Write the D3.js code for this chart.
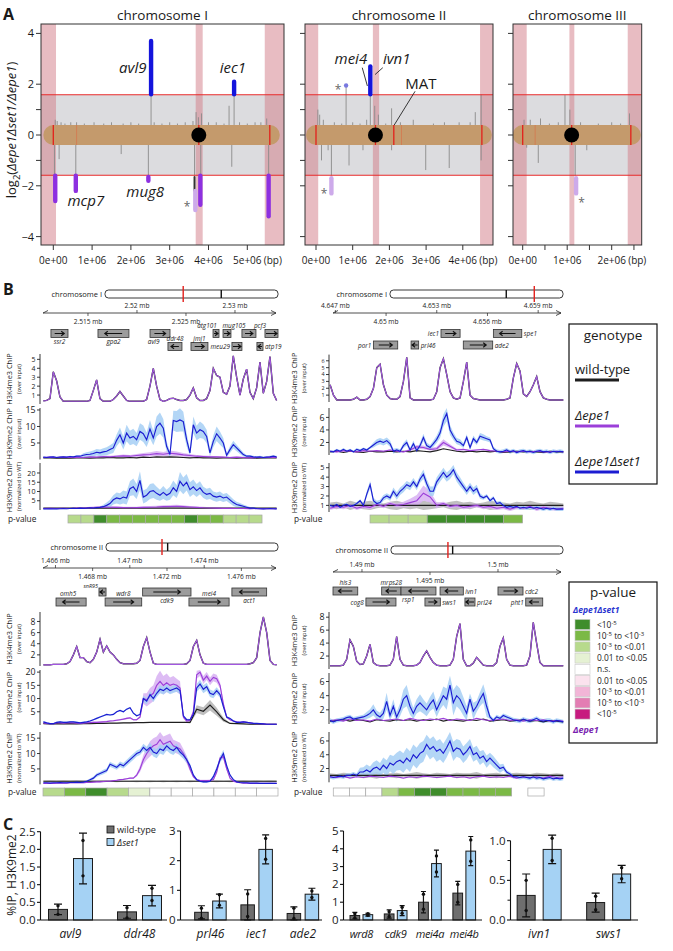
<!DOCTYPE html>
<html><head><meta charset="utf-8">
<script src="https://cdn.jsdelivr.net/npm/d3@7"></script>
<style>
body{margin:0;background:#fff;}
svg{display:block;}
text{font-family:"Open Sans","Liberation Sans",Arial,sans-serif;fill:#1a1a1a;}
</style></head><body>
<svg id="fig" width="673" height="951" viewBox="0 0 673 951"></svg>
<script>
// ================= PANEL A DATA =================
const chromNames=["chromosome I","chromosome II","chromosome III"];
const chromLenMb=[5.58,4.52,2.43];
const cenMb=[3.75,1.62,1.10];
const threshold=1.585;
const aXTicks=[[0,1,2,3,4,5],[0,1,2,3,4],[0,0.5,1,1.5,2,2.5]];
const aYTicks=[4,2,1,0,-1,-2,-4];
const aYLabels=[4,2,0,-2,-4];
const pinkBands=[[[-1,0.07],[3.67,3.85],[5.45,7]],[[-1,0.06],[1.55,1.72],[4.47,6]],[[-1,0.09],[1.05,1.16],[2.36,3]]];
const redStrong=[[0,3.75,5.58],[0,1.62,2.12,4.52],[0,1.10,2.43]];
const redFaint=[[0.6],[2.33],[0.28]];
const spikesI=[[0.03,-1.6],[0.05,0.6],[0.1,0.55],[0.15,-0.95],[0.2,0.5],[0.3,0.45],[0.45,0.5],[0.58,-1.6],[0.6,0.5],[0.8,0.45],[0.95,-0.3],[1.05,0.5],[1.3,0.45],[1.5,0.5],[1.75,-0.75],[1.8,0.45],[2.0,0.5],[2.2,0.45],[2.45,-1.6],[2.52,1.6],[2.6,0.5],[2.8,0.45],[3.0,0.5],[3.2,0.45],[3.4,0.5],[3.6,0.55],[3.64,-1.6],[3.68,0.9],[3.74,0.7],[3.8,-1.6],[3.82,0.85],[4.0,0.5],[4.2,0.5],[4.4,0.45],[4.53,1.15],[4.6,-1.25],[4.66,1.6],[4.8,0.5],[5.0,0.45],[5.2,0.5],[5.35,0.5],[5.5,0.65],[5.55,-1.6]];
const spikesII=[[0.05,1.0],[0.1,0.8],[0.15,-1.0],[0.2,0.6],[0.33,-0.6],[0.42,-1.6],[0.5,0.5],[0.7,0.45],[0.82,1.95],[0.9,-1.2],[1.0,0.5],[1.2,0.45],[1.28,-0.6],[1.38,0.6],[1.48,1.6],[1.6,1.15],[1.7,0.8],[1.9,0.45],[2.06,1.05],[2.06,-0.6],[2.3,0.5],[2.65,0.6],[2.99,-1.38],[3.2,0.45],[3.5,0.5],[3.63,-1.3],[3.9,0.5],[4.2,0.5],[4.34,0.9],[4.5,1.6],[4.5,-1.0]];
const spikesIII=[[0.03,0.6],[0.09,-0.5],[0.17,0.6],[0.35,-1.1],[0.4,0.65],[0.6,0.45],[0.8,0.5],[0.95,1.57],[1.06,1.0],[1.18,-1.6],[1.3,0.5],[1.44,-0.6],[1.7,0.45],[2.0,0.5],[2.2,0.45],[2.4,0.85]];
const hitsI=[[0.05,-1.6,-2.6,"down"],[0.58,-1.6,-2.2,"down"],[2.45,-1.65,-1.8,"down"],[2.52,1.6,3.7,"up"],[3.64,-1.65,-2.2,"dark"],[3.66,-2.2,-2.95,"light"],[3.79,-1.6,-2.75,"down"],[4.66,1.6,2.1,"up"],[5.55,-1.6,-3.2,"down"]];
const hitsII=[[0.42,-1.7,-2.3,"light"],[0.82,1.95,1.95,"weak"],[1.48,1.6,2.7,"up"]];
const hitsIII=[[1.2,-1.7,-2.3,"light"]];
const aLabels=[[0,"avl9",2.05,2.45,"i"],[0,"iec1",4.63,2.45,"i"],[0,"mcp7",0.84,-2.8,"i"],[0,"mug8",2.37,-2.45,"i"],[0,"*",3.45,-2.8,"s"],[1,"mei4",0.95,2.8,"i"],[1,"ivn1",2.2,2.8,"i"],[1,"MAT",2.86,1.8,"n"],[1,"*",0.6,1.8,"s"],[1,"*",0.22,-2.3,"s"],[2,"*",1.32,-2.65,"s"]];
const aLeaders=[[1,1.26,2.65,1.40,1.93],[1,1.82,2.65,1.61,2.38],[1,2.70,1.72,2.13,0.39]];

// ================= PANEL B DATA =================
const bChrom=["chromosome I","chromosome I","chromosome II","chromosome II"];
const bChromLen=[5.58,5.58,4.52,4.52];
const bCen=[3.75,3.75,1.62,1.62];
const bView=[[2.51041,2.53439],[4.64686,4.66047],[1.46533,1.47797],[1.48787,1.50478]];
const bDataRange=[[2.51044,2.53425],[4.64669,4.66049],[1.46535,1.47790],[1.48765,1.50480]];
const rulerTop=[[2.52,2.53],[4.647,4.653,4.659],[1.466,1.47,1.474],[1.49,1.5]];
const rulerBot=[[2.515,2.525],[4.65,4.656],[1.468,1.472,1.476],[1.495]];
const bTicks=[[[1,2,3,4,5],[5,10,15],[5,10,15,20]],[[1,2,3,4,5,6],[2,4,6],[1,2,3,4,5]],[[2,4,6,8],[5,10,15,20],[5,10,15]],[[2,4,6,8],[2,4,6],[2,4,6]]];
const bYDom=[[[0,5.6],[0,15.6],[0,25.4]],[[0,6.9],[0,7.5],[0.3,5.5]],[[0,9.7],[0,20.8],[0,17]],[[0,8.8],[0,7.2],[0,7.3]]];

const genesTL=[["ssr2",2.51122,2.51296,1,0,"b"],["gpa2",2.51602,2.51918,-1,0,"b"],["avl9",2.52133,2.52337,1,0,"b",2.52170],["ddr48",2.52316,2.52459,-1,1,"a"],["jmj1",2.52551,2.52724,1,1,"a"],["atg101",2.52776,2.52837,1,0,"a",2.52714],["mug105",2.52878,2.52959,1,0,"a",2.52990],["pcf3",2.53071,2.53214,1,0,"a",2.53255],["meu29",2.52969,2.53071,1,1,"l"],["",2.53306,2.53439,1,0,"a"],["atp19",2.53224,2.53286,-1,1,"r"]];
const genesTR=[["por1",4.64925,4.65069,1,1,"l"],["prl46",4.65148,4.65193,-1,1,"r"],["iec1",4.65325,4.65438,1,0,"l"],["ade2",4.65457,4.65631,1,1,"r"],["spe1",4.65635,4.65803,-1,0,"r"]];
const genesBL=[["omh5",1.46603,1.46765,-1,1,"a",1.46668],["snR95",1.46834,1.46872,-1,0,"al"],["wdr8",1.46867,1.47064,1,1,"a"],["cdk9",1.47069,1.47329,1,0,"b"],["mei4",1.47318,1.47534,1,1,"a"],["act1",1.47549,1.47736,-1,0,"b"]];
const genesBR=[["his3",1.48787,1.48969,-1,0,"a"],["mrps28",1.49145,1.49287,-1,0,"a"],["rsp1",1.49287,1.49544,-1,0,"bl"],["ivn1",1.49574,1.49745,-1,0,"r"],["cdc2",1.50000,1.50184,1,0,"r"],["cog8",1.49029,1.49250,1,1,"l"],["sws1",1.49463,1.49576,1,1,"r"],["prl24",1.49757,1.49831,-1,1,"r"],["pht1",1.50204,1.50329,-1,1,"l"]];

const pvTL=[2,2,0,1,1,1,1,1,1,0,1,1,2,2,2];
const pvTR=[2,2,2,0,0,0,0,1];
const pvBL=[2,1,0,2,3,4,4,4,4,4,4];
const pvBR=[4,4,4,2,1,0,0,1,1,1,1,null,4];
const pvRange=[[2.51296,2.53276],[4.64905,4.65808],[1.46533,1.47797],[1.48789,1.50339]];

// H3K4me3 (wild-type and Δepe1 overlap)
const k4TL=[0.35,0.4,0.6,3.6,2.6,0.8,0.3,0.3,0.3,0.3,0.3,0.3,0.3,0.3,0.4,1.5,2.7,0.6,0.3,0.3,0.3,0.5,0.9,1.4,0.9,0.4,0.3,0.3,0.3,0.3,0.3,0.5,2.0,4.0,2.0,0.5,0.3,0.4,0.6,0.65,0.5,0.4,0.4,0.5,1.0,1.8,0.7,0.4,0.4,0.6,1.5,4.0,3.2,3.0,1.3,1.1,2.0,5.4,3.0,1.0,2.8,3.9,1.3,0.6,1.8,4.7,1.2,2.5,5.3,1.2,0.4];
const k4TR=[2.5,1.0,0.3,0.3,0.3,0.3,0.3,0.4,0.7,0.3,0.3,0.4,0.8,2.0,5.0,5.5,2.5,1.0,0.5,0.4,0.4,0.8,3.0,6.5,0.6,0.3,0.3,0.3,0.3,0.3,0.3,0.4,1.5,5.0,6.3,4.0,1.5,0.6,0.4,0.6,3.0,5.8,1.0,0.5,0.4,0.3,0.3,0.3,0.3,0.3,0.3,0.3,0.3,0.4,0.6,3.5,5.6,4.5,1.2,0.8,1.5,2.5,3.7,1.5,0.6,0.4,0.3,0.3,0.3,0.3,0.3];
const k4BL=[0.2,0.2,0.2,0.3,0.3,0.3,0.3,0.4,0.8,2.0,3.5,1.5,1.5,0.8,0.6,1.2,2.5,4.8,2.5,3.6,2.5,2.0,1.2,0.6,0.4,0.4,0.4,0.4,0.5,1.0,3.5,5.1,2.5,0.5,0.3,0.3,0.3,0.3,0.3,0.3,0.3,0.3,0.3,0.4,1.0,3.5,4.6,2.0,0.5,0.3,0.3,0.3,0.3,0.3,0.3,0.3,0.3,0.3,0.3,0.3,0.3,0.3,0.4,0.6,1.5,6.0,8.8,6.0,1.0,0.3,0.2];
const k4BR=[0.5,0.5,0.5,0.5,0.6, 1.5,4.5,3.5,1.2,0.7, 0.8,2.0,3.8,1.0,0.6, 0.5,0.5,0.5,0.6,1.5, 5.0,1.5,0.6,0.5,0.5, 0.5,0.6,1.0,2.0,2.8, 1.8,1.0,0.6,0.5,0.5, 0.5,0.6,1.5,5.0,7.0, 1.5,0.5,0.5,0.9,1.8, 1.2,0.6,0.5,0.5,0.5, 1.0,3.5,4.8,1.5,0.6, 0.5,0.5,0.5,0.5,0.6, 2.0,7.2,4.0,1.0,0.5, 0.5,0.5,0.5,0.5,0.5,0.5];

// H3K9me2 over input
const k9TLset=[0.7,0.6,0.7,0.8,0.6,0.7,0.8,0.7,0.9,0.8,1.0,1.0,1.3,1.5,1.6,1.8,2.2,2.0,2.3,2.5,3.0,3.5,5.8,7.5,5.0,8.0,6.5,7.0,6.0,8.5,7.8,6.0,9.2,6.5,10.0,11.0,9.5,4.0,1.5,11.8,11.5,12.0,11.5,6.0,2.0,10.5,8.0,9.0,8.5,7.0,2.0,5.5,7.8,6.5,5.0,1.3,3.0,4.5,3.5,2.5,1.5,1.0,1.0,0.8,0.7,0.8,0.6,0.7,0.8,1.0,0.8];
const k9TLsetErr=[0.2,0.2,0.2,0.2,0.2,0.2,0.2,0.2,0.2,0.2,0.2,0.2, 0.6,0.7,0.8,0.9,1.0,1.0,1.1,1.2,1.3,1.5, 1.8,2.2,2.0,2.5,2.2,2.3,2.0,2.5,2.5,2.2,2.8,2.2,3.0,3.2,2.8,1.5, 0.8,3.0,3.2,3.5,3.0,2.0,1.0, 2.5,2.2,2.5,2.2,2.0,1.0,1.8,2.2,2.0,1.5,0.6, 1.0,1.2,1.0,0.8,0.6,0.4,0.4,0.3,0.3,0.3,0.3,0.3,0.3,0.3,0.3];
const k9TLepe=[0.6,0.7,0.6,0.7,0.6,0.7,0.6,0.8,0.7,0.9,0.8,1.0,1.1,1.0,1.2,1.4,1.5,1.8,1.6,1.9,1.7,1.4,1.2,1.0,0.9,0.8,0.8,0.7,0.6,0.7,0.6,0.5,0.6,0.6,0.7,0.6];
const k9TLepeErr=[0.2,0.2,0.2,0.2,0.2,0.2,0.2,0.2,0.2,0.3,0.3,0.3,0.4,0.4,0.5,0.6,0.7,0.8,0.7,0.8,0.7,0.6,0.5,0.4,0.3,0.3,0.2,0.2,0.2,0.2,0.2,0.2,0.2,0.2,0.2,0.2];
const k9TLwt=[0.5,0.5,0.4,0.5,0.4,0.5,0.5,0.4,0.5,0.5,0.6,0.5,0.5,0.6,0.5,0.7,0.6,0.8,0.7,0.8,0.7,0.6,0.5,0.6,0.5,0.5,0.4,0.5,0.5,0.4,0.5,0.5,0.4,0.5,0.5,0.5];

const k9TRset=[0.6,0.5,0.8,0.6,0.9,0.6,0.8,0.5,0.9,0.7,1.0,0.8,1.2,1.6,2.0,2.2,2.0,2.3,1.8,0.6,0.8,0.6,1.5,2.0,0.8,1.8,0.7,1.5,2.8,1.5,1.2,1.8,2.5,3.5,5.5,6.6,4.0,3.0,2.2,2.0,1.5,2.8,1.2,2.6,2.0,3.0,2.8,2.6,2.4,1.0,0.6,0.5,0.6,0.8,0.5,0.7,0.4,0.6,0.7,0.5,0.6,0.4,0.6,0.7,0.5,0.6,0.4,0.6,0.5,0.6,0.5];
const k9TRsetErr=[0.2,0.2,0.2,0.2,0.2,0.2,0.2,0.2,0.2,0.2,0.2,0.2,0.2, 0.4,0.5,0.5,0.5,0.5,0.5,0.4,0.3,0.3,0.4,0.5,0.3,0.5,0.3,0.5,0.6,0.5,0.4,0.5,0.6,0.8, 1.0,1.2,0.8,0.6,0.5,0.5,0.4,0.5,0.4,0.5,0.4,0.5,0.5,0.4,0.4, 0.3,0.3,0.3,0.3,0.3,0.3,0.3,0.3,0.3,0.3,0.3,0.3,0.3,0.3,0.3,0.3,0.3,0.3,0.3,0.3,0.3,0.3];
const k9TRepe=[0.6,0.5,0.7,0.6,0.5,0.7,0.6,0.7,0.6,0.8,0.6,0.5,0.8,1.3,1.2,0.9,1.0,2.0,1.4,0.8,0.9,0.7,0.8,0.9,0.7,0.6,0.5,0.6,0.5,0.6,0.5,0.6,0.5,0.5,0.6,0.5];
const k9TRepeErr=[0.1,0.1,0.1,0.1,0.1,0.1,0.1,0.1,0.1,0.1,0.1,0.1,0.2,0.3,0.3,0.2,0.3,0.5,0.3,0.2,0.1,0.1,0.1,0.1,0.1,0.1,0.1,0.1,0.1,0.1,0.1,0.1,0.1,0.1,0.1,0.1];
const k9TRwt=[0.5,0.6,0.4,0.6,0.5,0.4,0.6,0.5,0.5,0.6,0.5,0.6,0.5,0.7,0.6,0.5,0.7,1.0,0.8,0.6,0.5,0.6,0.5,0.6,0.5,0.6,0.4,0.5,0.6,0.5,0.6,0.5,0.4,0.6,0.5,0.5];

const k9BLset=[1.2,0.8,0.5,0.5,1.0,1.2,1.0,1.0,1.2,1.2,1.0,0.8,1.0,1.2,1.5,2.0,2.5,3.0,3.5,4.0,3.8,4.0,5.0,5.5,5.0,6.0,6.5,4.5,3.5,4.0,10.0,9.0,11.5,10.0,12.0,13.5,13.0,14.0,13.0,13.5,14.0,13.0,3.5,2.0,2.0,4.0,14.0,15.5,13.5,14.5,12.0,11.5,13.0,11.5,7.0,3.0,2.5,1.5,1.0,1.0,1.2,1.0,0.8,0.6,0.6,0.5,0.4,0.3,0.3,0.3,0.3];
const k9BLsetErr=[0.3,0.3,0.3,0.3,0.3,0.3,0.3,0.3,0.3,0.3,0.3,0.3,0.3,0.3,0.3,0.3,0.3,0.3,0.3,0.3,0.3,0.3,0.3,0.3,0.3,0.3,0.3,0.3,0.3,0.3, 1.2,1.2,1.3,1.3,1.4,1.5,1.5,1.5,1.4,1.4,1.4,1.3, 0.5,0.4,0.4,0.6, 1.5,1.6,1.5,1.5,1.4,1.4,1.3,1.2, 0.8,0.4,0.3,0.3,0.2,0.2,0.2,0.2,0.2,0.2,0.2,0.2,0.2,0.2,0.2,0.2,0.2];
const k9BLepe=[0.8,0.6,0.5,0.5,0.8,0.8,0.7,0.8,0.8,0.8,0.7,0.6,0.7,0.8,0.9,1.0,1.0,1.1,1.2,1.3,1.5,1.6,1.8,2.0,2.2,2.5,2.7,2.0,2.0,3.0,10.0,9.5,11.0,12.0,15.0,16.5,15.0,16.0,15.0,15.5,15.0,14.0,3.0,1.5,1.8,5.0,19.0,20.0,17.0,18.5,16.5,18.0,17.5,15.0,8.0,3.0,2.0,1.5,1.2,1.0,1.2,1.0,0.8,0.6,0.5,0.5,0.4,0.3,0.3,0.3,0.3];
const k9BLepeErr=[0.3,0.3,0.3,0.3,0.3,0.3,0.3,0.3,0.3,0.3,0.3,0.3,0.3,0.3,0.3,0.3,0.3,0.3,0.3,0.3,0.3,0.3,0.3,0.3,0.3,0.3,0.3,0.3,0.3,0.3, 2.0,2.5,3.0,3.0,3.5,4.0,3.5,3.5,3.0,3.0,2.5,2.5, 0.5,0.4,0.4,0.8, 1.5,1.5,1.5,1.5,1.5,1.5,1.5,1.2, 0.8,0.4,0.3,0.3,0.2,0.2,0.2,0.2,0.2,0.2,0.2,0.2,0.2,0.2,0.2,0.2,0.2];
const k9BLwt=[0.5,0.4,0.5,0.4,0.5,0.4,0.5,0.5,0.6,0.6,0.7,0.7,0.8,0.8,0.9,0.9,1.0,1.0,1.0,1.0,1.0,1.0,1.0,6.0,5.2,7.5,5.0,2.0,0.6,0.5,0.4,0.3,0.3,0.3,0.3,0.3];
const k9BLwtErr=[0.1,0.1,0.1,0.1,0.1,0.1,0.1,0.1,0.1,0.1,0.1,0.1,0.1,0.1,0.1,0.1,0.1,0.1,0.1,0.1,0.1,0.1,0.4,1.5,1.5,2.0,1.5,0.8,0.2,0.1,0.1,0.1,0.1,0.1,0.1,0.1];

const k9BRset=[0.5,0.3,0.5,0.6,0.7,0.9,1.0,0.7,0.8,0.9,1.0,1.2,1.5,2.0,1.3,1.0,1.5,3.2,1.2,2.5,1.0,2.0,3.5,4.0,2.5,1.5,2.5,3.0,2.5,2.0,2.8,3.4,2.0,3.0,4.0,3.5,5.5,3.0,4.0,3.5,2.5,1.5,3.5,1.8,2.5,3.5,4.3,2.5,1.0,0.5,1.0,0.8,1.2,1.0,0.8,0.6,0.5,0.4,0.7,0.5,0.4,0.6,0.8,0.5,0.4,0.5,0.5,0.3,0.5,0.4,0.3];
const k9BRsetErr=[0.3,0.3,0.3,0.3,0.3,0.3,0.3,0.3,0.3,0.3,0.3, 0.5,0.6,0.8,0.6,0.6,0.8,1.2,0.7,1.0,0.7,0.9,1.3,1.5,1.2,0.8,1.0,1.2,1.0,0.9,1.0,1.2,1.0,1.0,1.3,1.5,1.3,1.8,1.5,1.5,1.3,1.0,0.8,1.2,0.8,1.0,1.3,1.5, 0.3,0.3,0.3,0.3,0.3,0.3,0.3,0.3,0.3,0.3,0.3,0.3,0.3,0.3,0.3,0.3,0.3,0.3,0.3,0.3,0.3,0.3,0.3];
const k9BRepe=[0.5,0.6,0.4,0.7,0.5,0.6,0.4,0.7,0.5,0.6,0.7,0.5,0.8,0.6,0.5,0.7,0.6,0.8,0.5,0.7,0.6,0.5,0.8,0.6,0.5,0.6,0.7,0.5,0.6,0.4,0.6,0.5,0.6,0.4,0.5,0.4];
const k9BRwt=[0.4,0.5,0.6,0.4,0.6,0.5,0.3,0.6,0.5,0.4,0.6,0.5,0.6,0.4,0.6,0.5,0.7,0.4,0.6,0.5,0.4,0.6,0.5,0.7,0.4,0.5,0.6,0.4,0.5,0.6,0.4,0.5,0.3,0.5,0.4,0.3];

// H3K9me2 normalized to WT
const nTLset=[0.6,0.7,0.6,0.7,0.6,0.7,0.8,0.7,0.8,0.9,0.8,1.0,0.9,1.0,1.2,1.1,1.3,1.4,1.8,2.5,3.5,5.5,6.5,6.0,7.0,6.5,11.5,12.5,10.0,16.0,7.0,8.0,10.0,10.5,9.0,8.0,9.5,8.0,9.0,12.0,10.0,15.5,13.0,15.0,11.0,12.5,10.5,12.0,9.5,8.5,9.0,7.5,7.0,7.5,6.5,7.0,5.5,4.0,3.0,2.5,2.0,1.5,1.0,1.0,0.8,0.7,0.6,0.7,0.8,0.7,0.6];
const nTLsetErr=[0.3,0.3,0.3,0.3,0.3,0.3,0.3,0.3,0.3,0.3,0.3,0.3,0.3,0.3,0.3,0.3,0.3,0.3, 1.0,1.5,2.0,2.5,3.0,3.0,3.5,3.5, 4.0,4.5,4.0,5.0,3.5,3.5,4.0,4.0,3.5,3.0,3.5,3.0,3.5,4.0,3.5,5.0,4.5,4.5,4.0,4.0,3.5,3.5, 3.0,3.0,3.0,2.5,2.5,2.5,2.2,2.2,2.0,1.8, 1.5,1.3,1.0,0.8,0.6,0.5,0.4,0.3,0.3,0.3,0.3,0.3,0.3];
const nTLepe=[0.8,0.9,0.8,0.9,0.8,1.0,1.0,1.2,1.4,1.6,1.5,1.4,1.3,1.2,1.3,1.4,1.5,1.6,1.8,1.9,2.0,1.8,1.6,1.4,1.2,1.1,1.0,0.9,0.9,0.8,0.8,0.7,0.8,0.7,0.8,0.7];
const nTLepeErr=[0.3,0.3,0.3,0.3,0.3,0.4,0.4,0.5,0.6,0.7,0.6,0.6,0.5,0.5,0.5,0.6,0.6,0.7,0.8,0.8,0.8,0.7,0.6,0.5,0.5,0.4,0.4,0.3,0.3,0.3,0.3,0.3,0.3,0.3,0.3,0.3];
const nTLwt=[1,1];

const nTRset=[1.0,0.9,1.1,0.8,1.0,1.1,0.9,1.0,1.2,1.5,1.0,2.2,3.2,1.5,1.2,1.3,1.8,2.0,1.8,2.5,2.0,2.5,2.8,3.2,3.0,3.5,3.0,3.8,4.3,3.3,2.5,2.5,3.5,4.0,4.5,4.0,4.3,4.8,4.0,3.5,3.0,2.5,3.0,2.5,2.8,2.0,1.8,2.0,1.5,1.8,1.2,1.3,1.0,0.8,0.9,0.8,0.9,0.7,0.8,0.7,0.8,0.7,0.8,0.7,0.6,0.7,0.6,0.7,0.6,0.6,0.6];
const nTRsetErr=[0.15,0.15,0.15,0.15,0.15,0.15,0.15,0.15,0.15,0.15,0.15, 0.3,0.4,0.3,0.3,0.3,0.3,0.3,0.3,0.4,0.4,0.4,0.4,0.4,0.4,0.4,0.4, 0.4,0.5,0.5,0.5,0.5,0.5,0.5,0.5,0.5,0.5,0.5,0.5,0.5,0.4,0.4,0.4,0.4,0.4,0.3, 0.2,0.2,0.2,0.2,0.2,0.2,0.2,0.2,0.2,0.2,0.2,0.2,0.2,0.2,0.2,0.2,0.2,0.2,0.2,0.2,0.2,0.2,0.2,0.2,0.2];
const nTRepe=[0.7,0.9,0.8,1.0,0.7,0.9,0.8,1.1,0.9,1.2,1.0,1.1,1.3,1.5,2.3,1.9,1.0,1.2,0.9,1.0,0.8,0.9,1.0,0.8,0.9,0.7,0.8,0.6,0.8,0.7,0.9,0.6,0.8,0.7,0.6,0.7];
const nTRepeErr=[0.2,0.2,0.2,0.2,0.2,0.2,0.2,0.2,0.2,0.2,0.2,0.3,0.4,0.6,0.8,0.6,0.3,0.2,0.2,0.2,0.2,0.2,0.2,0.2,0.2,0.2,0.2,0.2,0.2,0.2,0.2,0.2,0.2,0.2,0.2,0.2];
const nTRwt=[1,1,1,1,1,1,1,1,1,1,1,1,1,1,1,1,1,1,1,1,1,1,1,1,1,1,1,1,1,1,1,1,1,1,1,1];
const nTRwtErr=[0.3,0.4,0.2,0.5,0.3,0.4,0.5,0.3,0.2,0.4,0.5,0.3,0.4,0.3,0.5,0.4,0.3,0.2,0.4,0.5,0.3,0.4,0.2,0.3,0.5,0.4,0.3,0.2,0.4,0.3,0.5,0.3,0.2,0.4,0.3,0.2];

const nBLset=[0.5,0.5,0.4,0.5,0.5,0.6,0.5,0.5,0.6,0.6,0.7,0.6,0.7,1.0,1.5,2.0,3.0,3.5,4.0,4.5,6.5,6.0,5.5,6.5,6.0,7.0,8.0,9.0,10.0,10.5,12.0,11.0,12.0,10.5,10.0,11.5,11.0,12.5,11.5,11.0,12.0,10.5,9.5,8.0,6.0,3.0,1.5,1.0,0.8,0.8,1.0,2.5,5.0,8.0,10.0,6.0,3.0,1.5,0.8,0.6,0.5,0.5,0.4,0.4,0.4,0.3,0.3,0.3,0.3,0.3,0.3];
const nBLsetErr=[0.2,0.2,0.2,0.2,0.2,0.2,0.2,0.2,0.2,0.2,0.2,0.2,0.2, 0.3,0.4,0.5,0.6,0.6,0.7,0.7,0.8,0.8,0.8,0.9,0.9,1.0,1.0,1.0,1.0,1.0, 1.2,1.2,1.5,1.5,1.5,1.5,1.5,1.5,1.5,1.5,1.3,1.2,1.2,1.0, 0.8,0.5,0.3,0.3,0.3,0.3,0.3,0.5,0.8,1.0,1.2,0.8,0.4,0.3, 0.2,0.2,0.2,0.2,0.2,0.2,0.2,0.2,0.2,0.2,0.2,0.2,0.2];
const nBLepe=[0.3,0.3,0.3,0.3,0.4,0.4,0.4,0.4,0.5,0.5,0.5,0.5,0.5,0.6,0.6,0.7,0.8,0.8,0.9,1.0,1.0,1.2,1.3,1.5,1.6,1.8,2.0,2.0,3.0,5.0,8.0,10.0,11.5,12.5,13.0,14.5,13.0,13.5,14.0,12.5,12.0,11.5,10.0,8.0,5.0,2.5,1.5,1.2,1.2,1.2,1.3,1.5,4.0,8.5,9.0,5.0,2.0,1.0,0.7,0.5,0.4,0.4,0.3,0.3,0.3,0.3,0.3,0.3,0.3,0.3,0.3];
const nBLepeErr=[0.2,0.2,0.2,0.2,0.2,0.2,0.2,0.2,0.2,0.2,0.2,0.2,0.2,0.2,0.2,0.2,0.2,0.2,0.2,0.2,0.2,0.2,0.2,0.2,0.2,0.2,0.2,0.2, 0.5,1.0,1.5,2.0,2.5,2.5,2.5,3.0,2.5,2.5,2.5,2.0,2.0,2.0,1.5,1.2, 0.8,0.4,0.3,0.3,0.3,0.3,0.3,0.3,0.6,0.8,0.8,0.5,0.3,0.2, 0.1,0.1,0.1,0.1,0.1,0.1,0.1,0.1,0.1,0.1,0.1,0.1,0.1];
const nBLwt=[1,1,1,1,1,1,1,1,1,1,1,1,1,1,1,1,1,1,1,1,1,1,1,1,1,1,1,1,1,1,1,1,1,1,1,1];
const nBLwtErr=[0.2,0.3,0.2,0.3,0.2,0.3,0.2,0.3,0.2,0.3,0.2,0.3,0.2,0.2,0.3,0.2,0.3,0.2,0.3,0.2,0.3,0.2,0.3,0.2,0.3,0.2,0.3,0.2,0.3,0.2,0.3,0.2,0.3,0.2,0.3,0.2];

const nBRset=[0.8,0.7,0.8,0.9,0.8,1.0,1.0,1.2,1.0,1.5,1.5,1.8,1.5,2.0,2.2,1.8,2.5,2.0,2.8,2.5,3.0,3.2,2.8,3.5,3.0,4.0,3.5,4.2,4.5,5.5,4.8,5.2,4.5,4.8,4.2,5.0,6.0,4.5,5.0,4.8,4.0,4.5,5.2,4.0,4.3,3.5,3.8,3.0,3.5,3.0,2.5,2.0,2.2,1.5,1.2,0.8,0.8,0.7,0.8,0.7,0.6,0.8,0.6,0.7,0.5,0.6,0.7,0.5,0.6,0.5,0.6];
const nBRsetErr=[0.3,0.3,0.3,0.3,0.3,0.3,0.3,0.3,0.3, 0.6,0.7,0.8,0.8,0.9,1.0,1.0,1.1,1.2,1.2,1.3,1.3,1.4,1.4,1.5,1.5,1.5,1.5,1.5,1.5,1.4,1.5,1.5,1.5,1.5,1.4,1.4,1.4,1.4,1.3,1.3,1.2,1.2,1.1,1.0,1.0,1.0,0.9,0.9,0.8,0.8,0.7,0.6,0.5, 0.3,0.3,0.3,0.3,0.3,0.3,0.3,0.3,0.3,0.3,0.3,0.3,0.3,0.3,0.3,0.3,0.3,0.3];
const nBRepe=[0.8,0.7,0.9,0.6,0.8,0.7,0.9,0.8,0.7,0.9,0.8,0.6,0.8,0.7,0.9,0.8,0.7,0.8,0.9,0.7,0.8,0.6,0.8,0.9,0.7,0.8,0.7,0.9,0.6,0.8,0.7,0.8,0.6,0.9,0.7,0.8];
const nBRwt=[1,1,1,1,1,1,1,1,1,1,1,1,1,1,1,1,1,1,1,1,1,1,1,1,1,1,1,1,1,1,1,1,1,1,1,1];
const nBRwtErr=[0.3,0.2,0.4,0.3,0.2,0.4,0.3,0.5,0.2,0.3,0.4,0.2,0.3,0.5,0.3,0.2,0.4,0.3,0.2,0.4,0.3,0.3,0.5,0.2,0.3,0.4,0.2,0.3,0.4,0.3,0.2,0.4,0.3,0.2,0.3,0.2];

const pvColors=["#3f8d2b","#7bb945","#b7da8c","#e5f1d3","#ffffff","#fbe2ee","#f2b5d7","#e37db3","#c71a7f"];
const pvLabels=[["<10","-5"],["10","-5"," to <10","-3"],["10","-3"," to <0.01"],["0.01 to <0.05"],["n.s."],["0.01 to <0.05"],["10","-3"," to <0.01"],["10","-5"," to <10","-3"],["<10","-5"]];

// ================= PANEL C DATA =================
const c1Genes=["avl9","ddr48"], c1WT=[0.30,0.23], c1WTsd=[0.15,0.18], c1Set=[1.74,0.69], c1SetSd=[0.72,0.29], c1WTpts=[[0.40,0.16],[0.35,0.06]], c1SetPts=[[2.25,1.25],[0.90,0.55]];
const c2Genes=["prl46","iec1","ade2"], c2WT=[0.26,0.51,0.22], c2WTsd=[0.22,0.51,0.22], c2Set=[0.64,2.38,0.87], c2SetSd=[0.23,0.49,0.20], c2WTpts=[[0.40,0.06],[0.88,0.12],[0.40,0.05]], c2SetPts=[[0.85,0.50],[2.75,2.05],[0.98,0.76]];
const c3Genes=["wrd8","cdk9","mei4a","mei4b"], c3WT=[0.25,0.34,1.0,1.51], c3WTsd=[0.18,0.23,0.6,0.66], c3Set=[0.30,0.53,3.17,3.87], c3SetSd=[0.08,0.28,0.75,0.82], c3WTpts=[[0.35,0.12],[0.47,0.20],[1.45,0.60],[2.0,1.0]], c3SetPts=[[0.35,0.27],[0.72,0.38],[3.6,2.7],[4.5,3.3]];
const c4Genes=["ivn1","sws1"], c4WT=[0.31,0.22], c4WTsd=[0.27,0.12], c4Set=[0.89,0.58], c4SetSd=[0.18,0.11], c4WTpts=[[0.50,0.12],[0.30,0.13]], c4SetPts=[[1.03,0.75],[0.66,0.52]];

// ================= DRAWING =================
const svg=d3.select("#fig");
function T(g,x,y,s,o={}){const t=g.append("text").attr("x",x).attr("y",y).text(s);
 t.attr("font-size",o.size||10); if(o.anchor)t.attr("text-anchor",o.anchor); if(o.italic)t.attr("font-style","italic");
 if(o.bold)t.attr("font-weight","bold"); if(o.fill)t.style("fill",o.fill); if(o.ls)t.attr("letter-spacing",o.ls); return t;}

T(svg,3,20,"A",{size:16,bold:true});
T(svg,3,295,"B",{size:16,bold:true});
T(svg,3,830,"C",{size:16,bold:true});

// ---------- Panel A ----------
const aLay=[{x0:41,x1:284,z:53.3,k:38.8},{x0:305,x1:493,z:316,k:36.7},{x0:513,x1:641.7,z:522.7,k:44.5}];
const aTop=24,aBot=245,aZero=135,aK=25.4;
const spikesA=[spikesI,spikesII,spikesIII], hitsA=[hitsI,hitsII,hitsIII];
const hitColor={up:"#1414dc",down:"#8d30e0",light:"#cdaaea",weak:"#7878e0",dark:"#333"};
const aScales=[];
aLay.forEach((L,ci)=>{
 const x=d3.scaleLinear().domain([(L.x0-L.z)/L.k,(L.x1-L.z)/L.k]).range([L.x0,L.x1]);
 const y=d3.scaleLinear().domain([(aZero-aBot)/aK,(aZero-aTop)/aK]).range([aBot,aTop]);
 aScales.push({x,y});
 const g=svg.append("g");
 const cid="clipA"+ci;
 g.append("clipPath").attr("id",cid).append("rect").attr("x",L.x0).attr("y",aTop).attr("width",L.x1-L.x0).attr("height",aBot-aTop);
 const gc=g.append("g").attr("clip-path",`url(#${cid})`);
 gc.append("rect").attr("x",L.x0).attr("width",L.x1-L.x0).attr("y",y(threshold)).attr("height",y(-threshold)-y(threshold)).attr("fill","#dcdcdf");
 pinkBands[ci].forEach(b=>gc.append("rect").attr("x",x(b[0])).attr("width",x(b[1])-x(b[0])).attr("y",aTop).attr("height",aBot-aTop).attr("fill","#d27a85").attr("fill-opacity",0.5));
 gc.selectAll(null).data(spikesA[ci]).join("line").attr("x1",d=>x(d[0])).attr("x2",d=>x(d[0])).attr("y1",y(0)).attr("y2",d=>y(d[1])).attr("stroke","#8a8a8a").attr("stroke-width",0.9);
 gc.append("line").attr("x1",x(0)).attr("x2",x(chromLenMb[ci])).attr("y1",y(0)).attr("y2",y(0)).attr("stroke","#c49a6c").attr("stroke-width",20).attr("stroke-linecap","round");
 redFaint[ci].forEach(p=>gc.append("line").attr("x1",x(p)).attr("x2",x(p)).attr("y1",y(0)-10).attr("y2",y(0)+10).attr("stroke","#e0603a").attr("stroke-opacity",0.6).attr("stroke-width",0.8));
 redStrong[ci].forEach(p=>gc.append("line").attr("x1",x(p)).attr("x2",x(p)).attr("y1",y(0)-10).attr("y2",y(0)+10).attr("stroke","#e3201c").attr("stroke-width",1.3));
 [threshold,-threshold].forEach(t=>gc.append("line").attr("x1",L.x0).attr("x2",L.x1).attr("y1",y(t)).attr("y2",y(t)).attr("stroke","#e82a2a").attr("stroke-width",1.1));
 hitsA[ci].forEach(h=>{
   gc.append("line").attr("x1",x(h[0])).attr("x2",x(h[0])).attr("y1",y(h[1])).attr("y2",y(h[2])).attr("stroke",hitColor[h[3]]).attr("stroke-width",h[3]==="dark"?2:4.4).attr("stroke-linecap","round");
 });
 gc.append("circle").attr("cx",x(cenMb[ci])).attr("cy",y(0)).attr("r",7.5).attr("fill","#000");
 g.append("rect").attr("x",L.x0).attr("y",aTop).attr("width",L.x1-L.x0).attr("height",aBot-aTop).attr("fill","none").attr("stroke","#333").attr("stroke-width",1);
 aYTicks.forEach(t=>{
   g.append("line").attr("x1",L.x0-5).attr("x2",L.x0).attr("y1",y(t)).attr("y2",y(t)).attr("stroke","#333");
   if(ci===0 && aYLabels.includes(t)) T(g,L.x0-7,y(t)+4,t<0?"\u2212"+(-t):String(t),{size:11,anchor:"end"});
 });
 const xt=aXTicks[ci];
 let lastLab=0;
 xt.forEach(t=>{
   g.append("line").attr("x1",x(t)).attr("x2",x(t)).attr("y1",aBot).attr("y2",aBot+5).attr("stroke","#333");
   if(Number.isInteger(t)){ lastLab=t; T(g,x(t),aBot+19,(t*1e6).toExponential(0).replace(/e\+(\d)$/,"e+0$1"),{size:10,anchor:"middle"}); }
 });
 T(g,x(lastLab)+16.5,aBot+19,"(bp)",{size:10,anchor:"start"});
 T(g,(L.x0+L.x1)/2,19.5,chromNames[ci],{size:13.5,anchor:"middle"});
});
aLabels.forEach(a=>{const s=aScales[a[0]];
 if(a[4]==="s") T(svg,s.x(a[2]),s.y(a[3])+5,a[1],{size:12,anchor:"middle",fill:"#666"});
 else T(svg,s.x(a[2]),s.y(a[3]),a[1],{size:15,anchor:"middle",italic:a[4]==="i"});
});
aLeaders.forEach(l=>{const s=aScales[l[0]];
 svg.append("line").attr("x1",s.x(l[1])).attr("y1",s.y(l[2])).attr("x2",s.x(l[3])).attr("y2",s.y(l[4])).attr("stroke","#222").attr("stroke-width",0.9);});
{const yl=svg.append("text").attr("transform","translate(16,130) rotate(-90)").attr("text-anchor","middle").attr("font-size",13);
 yl.append("tspan").text("log");
 yl.append("tspan").attr("dy",4).attr("font-size",9.5).text("2");
 yl.append("tspan").attr("dy",-4).text("(");
 yl.append("tspan").attr("font-style","italic").text("\u0394epe1\u0394set1/\u0394epe1");
 yl.append("tspan").text(")");}

// ---------- Panel B ----------
const bLay=[
 {x0:43,x1:278,axisX:40,labX:[12,21],ideo:[105,278,294],rulerY:313,rows:[329.5,342.5],tr:[[404,354],[459.5,408],[510,463]],pY:515,pLabX:8},
 {x0:333,x1:563,axisX:329,labX:[297,306],ideo:[390,563,294],rulerY:313,rows:[329.5,341],tr:[[402,354.6],[455,408],[512,463]],pY:515,pLabX:294},
 {x0:43,x1:278,axisX:40,labX:[12,21],ideo:[106,278,547],rulerY:568,rows:[588,598],tr:[[666,612],[725,670],[784.3,732]],pY:788,pLabX:8},
 {x0:333,x1:563,axisX:329,labX:[297,306],ideo:[391,563,550],rulerY:572,rows:[587,598],tr:[[669,612],[724,673],[782.3,732]],pY:788,pLabX:294}];
const bGenes=[genesTL,genesTR,genesBL,genesBR];
const bPv=[pvTL,pvTR,pvBL,pvBR];
const bK4=[k4TL,k4TR,k4BL,k4BR];
const bK9=[
 [{v:k9TLwt},{v:k9TLepe,e:k9TLepeErr},{v:k9TLset,e:k9TLsetErr}],
 [{v:k9TRwt},{v:k9TRepe,e:k9TRepeErr},{v:k9TRset,e:k9TRsetErr}],
 [{v:k9BLwt,e:k9BLwtErr},{v:k9BLepe,e:k9BLepeErr},{v:k9BLset,e:k9BLsetErr}],
 [{v:k9BRwt},{v:k9BRepe},{v:k9BRset,e:k9BRsetErr}]];
const bNorm=[
 [{v:nTLwt},{v:nTLepe,e:nTLepeErr},{v:nTLset,e:nTLsetErr}],
 [{v:nTRwt,e:nTRwtErr},{v:nTRepe,e:nTRepeErr},{v:nTRset,e:nTRsetErr}],
 [{v:nBLwt,e:nBLwtErr},{v:nBLepe,e:nBLepeErr},{v:nBLset,e:nBLsetErr}],
 [{v:nBRwt,e:nBRwtErr},{v:nBRepe},{v:nBRset,e:nBRsetErr}]];
const sLine=["#1e1e1e","#9b3fd9","#1c1cd2"], sBand=["#a9a9a9","#d7b0f2","#a6cff4"];
const trTitles=[["H3K4me3 ChIP","(over input)"],["H3K9me2 ChIP","(over input)"],["H3K9me2 ChIP","(normalized to WT)"]];

bLay.forEach((L,ri)=>{
 const g=svg.append("g");
 const x=d3.scaleLinear().domain(bView[ri]).range([L.x0,L.x1]);
 const dr=bDataRange[ri];
 const pts=arr=>arr.map((v,i)=>[dr[0]+i*(dr[1]-dr[0])/(arr.length-1),v]);
 const [ix0,ix1,iy]=L.ideo;
 const ci=d3.scaleLinear().domain([0,bChromLen[ri]]).range([ix0,ix1]);
 g.append("rect").attr("x",ix0).attr("y",iy-4).attr("width",ix1-ix0).attr("height",8).attr("rx",3.5).attr("fill","#fff").attr("stroke","#222").attr("stroke-width",0.9);
 g.append("line").attr("x1",ci(bCen[ri])).attr("x2",ci(bCen[ri])).attr("y1",iy-4).attr("y2",iy+4).attr("stroke","#111").attr("stroke-width",1.4);
 const mid=(bView[ri][0]+bView[ri][1])/2;
 g.append("line").attr("x1",ci(mid)).attr("x2",ci(mid)).attr("y1",iy-8).attr("y2",iy+8).attr("stroke","#e3201c").attr("stroke-width",1.4);
 T(g,ix0-3,iy+3,bChrom[ri],{size:7.5,anchor:"end"});
 const ry=L.rulerY, rx0=L.x0, rx1=L.x1-2;
 g.append("line").attr("x1",rx0).attr("x2",rx1).attr("y1",ry).attr("y2",ry).attr("stroke","#222").attr("stroke-width",0.8);
 g.append("path").attr("d",`M${rx0+5},${ry-2.5}L${rx0},${ry}M${rx1-5},${ry-2.5}L${rx1},${ry}L${rx1-5},${ry+2.5}`).attr("fill","none").attr("stroke","#222").attr("stroke-width",0.8);
 rulerTop[ri].forEach(v=>{g.append("line").attr("x1",x(v)).attr("x2",x(v)).attr("y1",ry).attr("y2",ry-3).attr("stroke","#222").attr("stroke-width",0.7);
   T(g,x(v),ry-5,v+" mb",{size:6.6,anchor:"middle"});});
 rulerBot[ri].forEach(v=>{g.append("line").attr("x1",x(v)).attr("x2",x(v)).attr("y1",ry).attr("y2",ry+3).attr("stroke","#222").attr("stroke-width",0.7);
   T(g,x(v),ry+10.5,v+" mb",{size:6.6,anchor:"middle"});});
 bGenes[ri].forEach(gn=>{
   const [name,s,e,str,row,lp,lx]=gn;
   const bx=x(s), bw=Math.max(4,x(e)-x(s)), by=L.rows[row];
   g.append("rect").attr("x",bx).attr("y",by).attr("width",bw).attr("height",8).attr("fill","#9c9c9c").attr("stroke","#333").attr("stroke-width",0.8);
   const a0=bw>14?bx+bw*0.22:bx+1, a1=bw>14?bx+bw*0.78:bx+bw-1, ay=by+4;
   const tip=str>0?a1:a0, tail=str>0?a0:a1, d=str>0?-3:3;
   g.append("path").attr("d",`M${tail},${ay}L${tip},${ay}M${tip+d},${ay-2.2}L${tip},${ay}L${tip+d},${ay+2.2}`).attr("fill","none").attr("stroke","#111").attr("stroke-width",1.1);
   if(!name) return;
   const cx=lx?x(lx):bx+bw/2;
   const o={size:6.4,italic:true};
   if(lp==="a") T(g,cx,by-1.6,name,{...o,anchor:"middle"});
   else if(lp==="b") T(g,cx,by+14.5,name,{...o,anchor:"middle"});
   else if(lp==="bl") T(g,bx+1,by+14.5,name,{...o,anchor:"start"});
   else if(lp==="l") T(g,bx-2,by+6.5,name,{...o,anchor:"end"});
   else if(lp==="r") T(g,bx+bw+2,by+6.5,name,{...o,anchor:"start"});
   else if(lp==="al") T(g,bx-1,by-0.5,name,{size:5.4,italic:true,anchor:"end"});
 });
 L.tr.forEach((rng,ti)=>{
   const y=d3.scaleLinear().domain(bYDom[ri][ti]).range(rng).clamp(true);
   g.append("line").attr("x1",L.axisX).attr("x2",L.axisX).attr("y1",rng[0]).attr("y2",rng[1]).attr("stroke","#222").attr("stroke-width",0.9);
   const tk=bTicks[ri][ti], sp=Math.abs(y(tk[1])-y(tk[0]));
   const fs=Math.max(5.4,Math.min(8.8,sp/1.3));
   tk.forEach(t=>{g.append("line").attr("x1",L.axisX-3).attr("x2",L.axisX).attr("y1",y(t)).attr("y2",y(t)).attr("stroke","#222").attr("stroke-width",0.9);
     T(g,L.axisX-4.5,y(t)+fs*0.36,String(t),{size:fs,anchor:"end"});});
   const yc=(rng[0]+rng[1])/2;
   g.append("text").attr("transform",`translate(${L.labX[0]},${yc}) rotate(-90)`).attr("text-anchor","middle").attr("font-size",7.4).text(trTitles[ti][0]);
   g.append("text").attr("transform",`translate(${L.labX[1]},${yc}) rotate(-90)`).attr("text-anchor","middle").attr("font-size",5.6).text(trTitles[ti][1]);
   const line=d3.line().x(d=>x(d[0])).y(d=>y(d[1]));
   if(ti===0){
     g.append("path").attr("d",line(pts(bK4[ri]))).attr("fill","none").attr("stroke","#222").attr("stroke-width",1.4);
     g.append("path").attr("d",line(pts(bK4[ri]))).attr("fill","none").attr("stroke","#a257e0").attr("stroke-width",1.1);
   } else {
     const ser=ti===1?bK9[ri]:bNorm[ri];
     ser.forEach((s,si)=>{ if(!s.e) return;
       const p=s.v.map((v,i)=>[dr[0]+i*(dr[1]-dr[0])/(s.v.length-1),v,s.e[i]]);
       const area=d3.area().x(d=>x(d[0])).y0(d=>y(d[1]-d[2])).y1(d=>y(d[1]+d[2]));
       g.append("path").attr("d",area(p)).attr("fill",sBand[si]).attr("fill-opacity",si===0?0.75:0.85);
     });
     ser.forEach((s,si)=>g.append("path").attr("d",line(pts(s.v))).attr("fill","none").attr("stroke",sLine[si]).attr("stroke-width",1.15));
   }
 });
 T(g,L.pLabX,L.pY+7,"p-value",{size:8.3});
 const pv=bPv[ri], pr=pvRange[ri], bw=(x(pr[1])-x(pr[0]))/pv.length;
 pv.forEach((c,i)=>{ if(c===null) return;
   g.append("rect").attr("x",x(pr[0])+i*bw).attr("y",L.pY).attr("width",bw).attr("height",8).attr("fill",pvColors[c]).attr("stroke","#a8a8a8").attr("stroke-width",0.7);});
});

{const g=svg.append("g");
 g.append("rect").attr("x",569).attr("y",324).attr("width",88).attr("height",160).attr("fill","#fff").attr("stroke","#111").attr("stroke-width",1.2);
 T(g,613,340,"genotype",{size:13.5,anchor:"middle"});
 const items=[["wild-type",false,"#1e1e1e",374],["\u0394epe1",true,"#9b3fd9",420],["\u0394epe1\u0394set1",true,"#1c1cd2",466]];
 items.forEach(it=>{T(g,575,it[3],it[0],{size:13,italic:it[1]});
   g.append("line").attr("x1",575).attr("x2",619).attr("y1",it[3]+6).attr("y2",it[3]+6).attr("stroke",it[2]).attr("stroke-width",3);});}
{const g=svg.append("g");
 g.append("rect").attr("x",569).attr("y",582).attr("width",88).attr("height",161).attr("fill","#fff").attr("stroke","#111").attr("stroke-width",1.2);
 T(g,613,597,"p-value",{size:13.5,anchor:"middle"});
 T(g,573,613,"\u0394epe1\u0394set1",{size:8.5,italic:true,bold:true,fill:"#2a35d0"});
 pvColors.forEach((c,i)=>{const yy=619.5+i*11.2;
   g.append("rect").attr("x",575).attr("y",yy).attr("width",15).attr("height",10).attr("fill",c).attr("stroke","#c8c8c8").attr("stroke-width",0.6);
   const t=g.append("text").attr("x",597).attr("y",yy+8).attr("font-size",8.4);
   pvLabels[i].forEach((seg,k)=>{const sp=t.append("tspan").text(seg);
     if(k%2===1) sp.attr("dy",-3).attr("font-size",6); else if(k>0) sp.attr("dy",3);});
 });
 T(g,573,733,"\u0394epe1",{size:9,italic:true,bold:true,fill:"#7a1fb0"});}

// ---------- Panel C ----------
const cLay=[
 {ax:40.5,xEnd:167,band:[36,174],yTop:831.7,ticks:[0,0.5,1,1.5,2,2.5],minor:[],fmt:".1f",barW:19,gap:6,cap:8},
 {ax:180.5,xEnd:322,band:[187.3,326],yTop:831,ticks:[0,1,2,3],minor:[],fmt:"d",barW:13.5,gap:4.5,cap:7},
 {ax:343.5,xEnd:482,band:[344.2,481.4],yTop:831,ticks:[0,1,2,3,4,5],minor:[],fmt:"d",barW:9.7,gap:3.3,cap:5},
 {ax:510.5,xEnd:638,band:[504.4,643.4],yTop:840.7,ticks:[0,0.5,1],minor:[0.25,0.75],fmt:".1f",barW:18,gap:8,cap:8}];
const cData=[
 {genes:c1Genes,wt:c1WT,wtSd:c1WTsd,set:c1Set,setSd:c1SetSd,wtPts:c1WTpts,setPts:c1SetPts,max:2.5},
 {genes:c2Genes,wt:c2WT,wtSd:c2WTsd,set:c2Set,setSd:c2SetSd,wtPts:c2WTpts,setPts:c2SetPts,max:3},
 {genes:c3Genes,wt:c3WT,wtSd:c3WTsd,set:c3Set,setSd:c3SetSd,wtPts:c3WTpts,setPts:c3SetPts,max:5},
 {genes:c4Genes,wt:c4WT,wtSd:c4WTsd,set:c4Set,setSd:c4SetSd,wtPts:c4WTpts,setPts:c4SetPts,max:1}];
const cBase=920;
cLay.forEach((L,i)=>{
 const D=cData[i], g=svg.append("g");
 const y=d3.scaleLinear().domain([0,D.max]).range([cBase,L.yTop]);
 const xb=d3.scaleBand().domain(D.genes).range(L.band);
 const f=d3.format(L.fmt);
 g.append("line").attr("x1",L.ax).attr("x2",L.ax).attr("y1",cBase).attr("y2",L.yTop).attr("stroke","#111").attr("stroke-width",1.1);
 L.ticks.forEach(t=>{g.append("line").attr("x1",L.ax-3.5).attr("x2",L.ax).attr("y1",y(t)).attr("y2",y(t)).attr("stroke","#111").attr("stroke-width",1.1);
   T(g,L.ax-5,y(t)+4,f(t),{size:11.5,anchor:"end"});});
 L.minor.forEach(t=>g.append("line").attr("x1",L.ax-3).attr("x2",L.ax).attr("y1",y(t)).attr("y2",y(t)).attr("stroke","#111"));
 D.genes.forEach((gn,j)=>{
   const cx=xb(gn)+xb.bandwidth()/2;
   const bars=[{v:D.wt[j],sd:D.wtSd[j],p:D.wtPts[j],bx:cx-L.gap/2-L.barW,fill:"#6e6e6e"},{v:D.set[j],sd:D.setSd[j],p:D.setPts[j],bx:cx+L.gap/2,fill:"#a5d2f4"}];
   bars.forEach(b=>{
     g.append("rect").attr("x",b.bx).attr("y",y(b.v)).attr("width",L.barW).attr("height",cBase-y(b.v)).attr("fill",b.fill).attr("stroke","#1a1a1a").attr("stroke-width",1);
     const mx=b.bx+L.barW/2, lo=Math.max(0,b.v-b.sd), hi=b.v+b.sd;
     g.append("path").attr("d",`M${mx},${y(lo)}L${mx},${y(hi)}M${mx-L.cap/2},${y(hi)}L${mx+L.cap/2},${y(hi)}M${mx-L.cap/2},${y(lo)}L${mx+L.cap/2},${y(lo)}`).attr("fill","none").attr("stroke","#111").attr("stroke-width",1.2);
     b.p.forEach(v=>g.append("circle").attr("cx",mx).attr("cy",y(v)).attr("r",1.7).attr("fill","#111"));
   });
   T(g,cx,938,gn,{size:i===2?11:12,italic:true,anchor:"middle",ls:i===2?-0.3:0});
 });
 g.append("line").attr("x1",L.ax).attr("x2",L.xEnd).attr("y1",cBase).attr("y2",cBase).attr("stroke","#111").attr("stroke-width",1.1);
});
svg.append("text").attr("transform","translate(16,875) rotate(-90)").attr("text-anchor","middle").attr("font-size",12).text("%IP, H3K9me2");
{const g=svg.append("g");
 g.append("rect").attr("x",107).attr("y",826).attr("width",7).attr("height",7).attr("fill","#6e6e6e").attr("stroke","#111").attr("stroke-width",0.8);
 g.append("rect").attr("x",107).attr("y",838.5).attr("width",7).attr("height",7).attr("fill","#a5d2f4").attr("stroke","#111").attr("stroke-width",0.8);
 T(g,117,833,"wild-type",{size:9.2});
 T(g,117,845.5,"\u0394set1",{size:9.2,italic:true});}
</script></body></html>
